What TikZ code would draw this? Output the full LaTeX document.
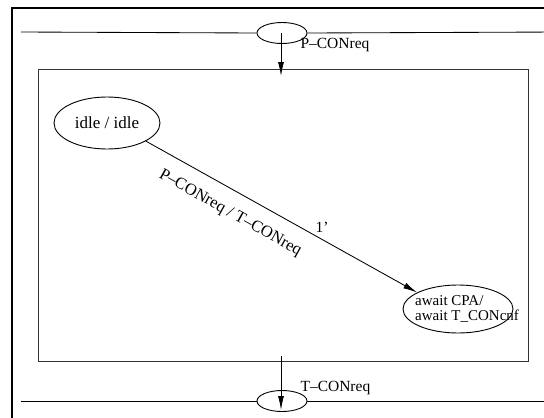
\documentclass[tikz,border=0pt]{standalone}
\usepackage{fontspec}
\setmainfont{Liberation Serif}
\usetikzlibrary{shapes.geometric,arrows.meta}
\begin{document}
\begin{tikzpicture}[x=1pt,y=-1pt,
  ell/.style={draw,ellipse,line width=0.9pt,inner sep=0pt},
  thinln/.style={line width=0.85pt},
  arr/.style={-{Latex[length=14pt,width=6pt]},line width=0.85pt},
  lab/.style={font=\fontsize{15.5}{17}\selectfont}]
\useasboundingbox (0,0) rectangle (544,418);
% outer frame
\coordinate (fb) at (12,430);
\coordinate (fc) at (12,8);
\coordinate (fr) at (560,8);
\draw[line width=2pt] (fb) -- (fc) -- (fr);
% top channel
\coordinate (tl) at (21,32);
\coordinate (tr) at (560,32);
\node[ell, minimum width=50pt, minimum height=21pt] (top) at (282,33) {};
\draw[thinln] (tl) -- (top.west) (top.east) -- (tr);
% bottom channel
\coordinate (bl) at (21,401);
\coordinate (br) at (560,401);
\node[ell, minimum width=50pt, minimum height=21pt] (bot) at (282,401) {};
\draw[thinln] (bl) -- (bot.west) (bot.east) -- (br);
% inner box
\node[draw=black!80, thinln, minimum width=490pt, minimum height=292pt, anchor=north west, inner sep=0pt] (box) at (38,69) {};
% vertical arrows
\coordinate (ts) at (281,33);
\coordinate (te) at (281,76);
\draw[arr] (ts) -- (te);
\coordinate (bs) at (281,356);
\coordinate (be) at (281,410);
\draw[arr] (bs) -- (be);
\node[lab, anchor=west] (plab) at (297,45) {P–CONreq};
\node[lab, anchor=west] (tlab) at (297,388) {T–CONreq};
% states
\node[ell, minimum width=106pt, minimum height=52pt, font=\fontsize{17}{20}\selectfont] (idle) at (107,123) {idle / idle};
\node[ell, minimum width=110pt, minimum height=48pt] (await) at (458,309) {};
\node[font=\fontsize{15}{15.5}\selectfont, align=left, anchor=west, inner sep=0pt] (awaittxt) at (415,309) {await CPA/\\await T\_CONcnf};
% transition
\draw[arr] (idle.-25) -- (await.158)
  node[pos=0.35, sloped, below=11pt, font=\fontsize{16.5}{18}\selectfont] (elab) {P–CONreq / T–CONreq}
  node[pos=0.65, above=3pt, lab] (one) {1’};
\end{tikzpicture}
\end{document}
